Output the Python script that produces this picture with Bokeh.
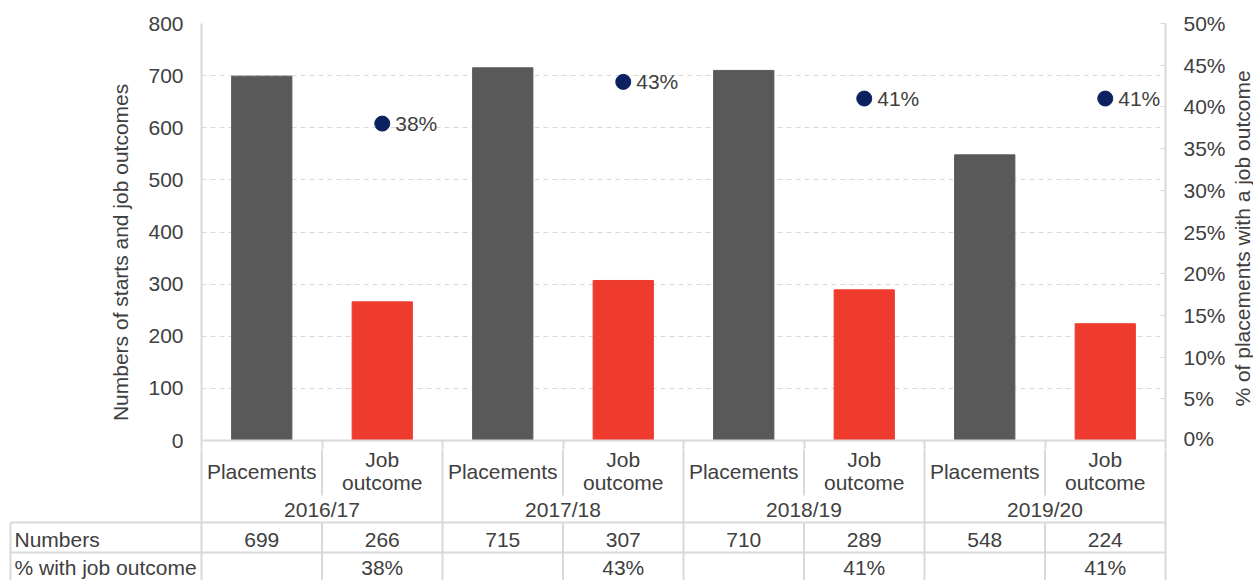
from bokeh.plotting import figure
from bokeh.models import Range1d, LinearAxis, FixedTicker, NumeralTickFormatter
from bokeh.layouts import row
from bokeh.embed import file_html
from bokeh.resources import INLINE
from bokeh.core.properties import value
import math

# ---------------- data ----------------
years = ["2016/17", "2017/18", "2018/19", "2019/20"]
sub_labels = ["Placements", "Job\noutcome"]
placements = [699, 715, 710, 548]
job_outcomes = [266, 307, 289, 224]
pct_job = [38, 43, 41, 41]
left_ticks = [0, 100, 200, 300, 400, 500, 600, 700, 800]
right_ticks = [0, 5, 10, 15, 20, 25, 30, 35, 40, 45, 50]
row_labels = ["Numbers", "% with job outcome"]
left_title = "Numbers of starts and job outcomes"
right_title = "% of placements with a job outcome"

# ---------------- style ----------------
FONT = "Liberation Sans"
FS = "21px"
TXT = "#404040"
GRID = "#d9d9d9"
C_PLACE = "#595959"
C_JOB = "#EE3B2E"
C_DOT = "#0B2160"
NB = "\u00a0"

PAGE_W = 1253
n_cols = 2 * len(years)
FW, FH = 964, 417
BL, BR, BT, BB = 201, 64, 23, 9
col_px = FW / n_cols
TOP_H = BT + FH + BB

px = [2 * i + 0.5 for i in range(len(years))]
jx = [2 * i + 1.5 for i in range(len(years))]

# ---------------- chart ----------------
p = figure(frame_width=FW, frame_height=FH,
           min_border_left=BL, min_border_right=BR, min_border_top=BT, min_border_bottom=BB,
           x_range=Range1d(0, n_cols), y_range=Range1d(0, left_ticks[-1]),
           output_backend="svg", toolbar_location=None, outline_line_color=None)

p.extra_y_ranges = {"pct": Range1d(0, right_ticks[-1] / 100)}

p.vbar(x=px, top=placements, width=0.5, color=C_PLACE)
p.vbar(x=jx, top=job_outcomes, width=0.5, color=C_JOB)

pct_frac = [v / 100 for v in pct_job]
p.scatter(x=jx, y=pct_frac, size=15, color=C_DOT, y_range_name="pct")
p.text(x=jx, y=pct_frac, text=[f"{v}%" for v in pct_job], y_range_name="pct",
       x_offset=13, text_align="left", text_baseline="middle",
       text_font=value(FONT), text_font_size=FS, text_color=TXT)

# grid
p.xgrid.visible = False
p.ygrid.ticker = FixedTicker(ticks=left_ticks)
p.ygrid.grid_line_color = GRID
p.ygrid.grid_line_dash = "5 4"
p.ygrid.grid_line_width = 1

# left axis
ya = p.yaxis[0]
ya.ticker = FixedTicker(ticks=left_ticks)
ya.axis_line_color = GRID
ya.axis_line_width = 2
ya.major_tick_line_color = None
ya.minor_tick_line_color = None
ya.major_tick_out = 0
ya.major_tick_in = 0
ya.major_label_standoff = 18
ya.major_label_text_font = FONT
ya.major_label_text_font_size = FS
ya.major_label_text_color = TXT
ya.axis_label = left_title + NB * 7
ya.axis_label_standoff = 13
ya.axis_label_text_font = FONT
ya.axis_label_text_font_size = FS
ya.axis_label_text_font_style = "normal"
ya.axis_label_text_color = TXT

# right axis
ra = LinearAxis(y_range_name="pct", ticker=FixedTicker(ticks=[t / 100 for t in right_ticks]),
                formatter=NumeralTickFormatter(format="0%"))
ra.axis_line_color = GRID
ra.axis_line_width = 2
ra.major_tick_line_color = GRID
ra.major_tick_line_width = 1
ra.major_tick_in = 5
ra.major_tick_out = 0
ra.minor_tick_line_color = None
ra.major_label_standoff = 18
ra.major_label_text_font = FONT
ra.major_label_text_font_size = FS
ra.major_label_text_color = TXT
p.add_layout(ra, "right")

# bottom axis: only the line and the boundary ticks that start the category table
xa = p.xaxis[0]
xa.ticker = FixedTicker(ticks=[], minor_ticks=list(range(n_cols + 1)))
xa.axis_line_color = GRID
xa.axis_line_width = 2
xa.major_tick_line_color = None
xa.major_tick_out = 0
xa.major_tick_in = 0
xa.minor_tick_line_color = GRID
xa.minor_tick_line_width = 2
xa.minor_tick_out = BB
xa.minor_tick_in = 0
xa.major_label_standoff = 0

# right-hand title strip (text reads bottom-to-top as in the reference)
RW = PAGE_W - (BL + FW + BR)
r = figure(width=RW, height=TOP_H, min_border=0,
           x_range=Range1d(0, RW), y_range=Range1d(0, TOP_H),
           x_axis_type=None, y_axis_type=None,
           output_backend="svg", toolbar_location=None, outline_line_color=None)
r.grid.visible = False
r.text(x=[RW - 11], y=[TOP_H - (BT + FH / 2)], text=[right_title], angle=math.pi / 2,
       text_align="center", text_baseline="middle",
       text_font=value(FONT), text_font_size=FS, text_color=TXT)

# ---------------- category / data table ----------------
TH = 131
b = figure(width=PAGE_W, height=TH,
           x_range=Range1d(-BL / col_px, n_cols + (PAGE_W - BL - FW) / col_px), y_range=Range1d(TH, 0),
           min_border=0, x_axis_type=None, y_axis_type=None,
           output_backend="svg", toolbar_location=None, outline_line_color=None)
b.grid.visible = False

r_sub_end, r_year_end, r_num_end = 46, 73, 103
x_tab = -191 / col_px

grp = list(range(0, n_cols + 1, 2))
sub = list(range(1, n_cols, 2))
x0, y0, x1, y1 = [], [], [], []
for g in grp:
    x0.append(g); y0.append(0); x1.append(g); y1.append(TH)
for s in sub:
    x0 += [s, s]; y0 += [0, r_year_end]; x1 += [s, s]; y1 += [r_sub_end, TH]
for yy in (r_year_end, r_num_end):
    x0.append(x_tab); y0.append(yy); x1.append(n_cols); y1.append(yy)
x0.append(x_tab); y0.append(r_year_end); x1.append(x_tab); y1.append(TH)
b.segment(x0=x0, y0=y0, x1=x1, y1=y1, line_color=GRID, line_width=2)

tkw = dict(text_font=value(FONT), text_font_size=FS, text_color=TXT, text_baseline="middle")
cx = [i + 0.5 for i in range(n_cols)]
b.text(x=cx, y=[21.5] * n_cols, text=sub_labels * len(years), text_align="center",
       text_line_height=1.0, **tkw)
b.text(x=[g + 1 for g in grp[:-1]], y=[60] * len(years), text=years, text_align="center", **tkw)

numbers = []
for a, c in zip(placements, job_outcomes):
    numbers += [str(a), str(c)]
b.text(x=[x_tab] * 2, y=[90, 118], text=row_labels, x_offset=4, text_align="left", **tkw)
b.text(x=cx, y=[90] * n_cols, text=numbers, text_align="center", **tkw)
b.text(x=jx, y=[118] * len(years), text=[f"{v}%" for v in pct_job], text_align="center", **tkw)

top = row(p, r, spacing=0)
open("out.html", "w").write(file_html([top, b], INLINE))
